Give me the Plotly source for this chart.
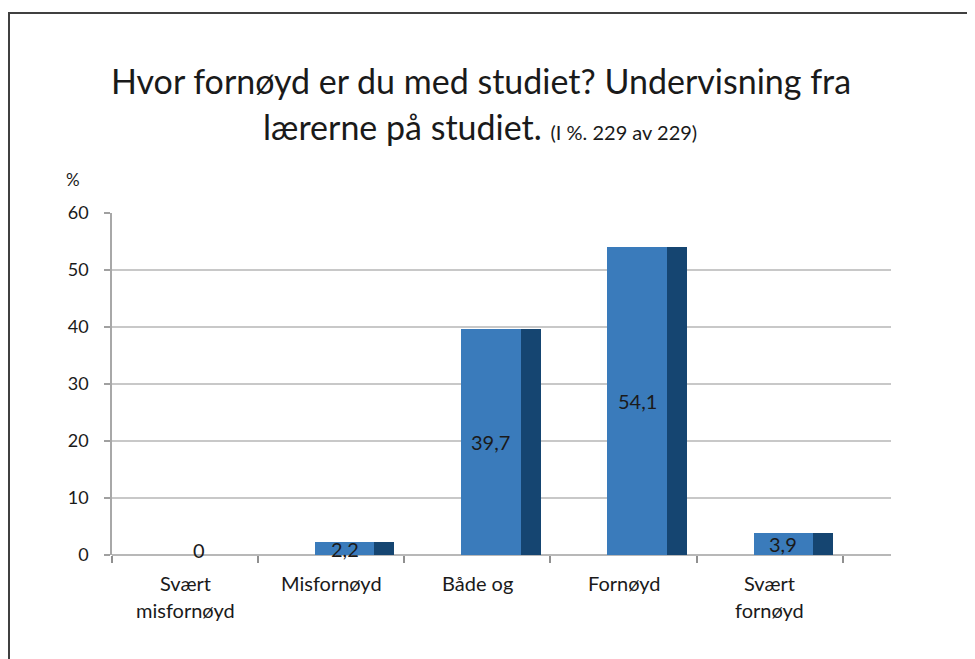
import plotly.graph_objects as go

categories = ["Svært\nmisfornøyd", "Misfornøyd", "Både og", "Fornøyd", "Svært\nfornøyd"]
values = [0, 2.2, 39.7, 54.1, 3.9]
value_labels = ["0", "2,2", "39,7", "54,1", "3,9"]
y_ticks = [0, 10, 20, 30, 40, 50, 60]

FONT = "Lato"
FRONT = "#3a7bbb"
SIDE = "#154571"
TXT = "#1a1a1a"
x = list(range(len(categories)))

front_l, front_r, side_r = -0.11, 0.295, 0.432

# page body has an 8px margin: figure pixel = screen pixel - 8
O = 8
W, H = 975 - O, 659 - O
ML = 112 - O
MT = 213 - O
MR = W - (891 - O)
MB = H - (555 - O)
pw, ph = W - ML - MR, H - MT - MB


def px(sx):
    return (sx - O - ML) / pw


def py(sy):
    return (H - (sy - O) - MB) / ph


fig = go.Figure()
fig.add_trace(go.Bar(
    x=[i + (front_l + front_r) / 2 for i in x], y=values,
    width=front_r - front_l, marker=dict(color=FRONT, line=dict(width=0)),
    hoverinfo="skip", showlegend=False))
fig.add_trace(go.Bar(
    x=[i + (front_r + side_r) / 2 for i in x], y=values,
    width=side_r - front_r, marker=dict(color=SIDE, line=dict(width=0)),
    hoverinfo="skip", showlegend=False))

annotations = []
for i, v, lab in zip(x, values, value_labels):
    annotations.append(dict(x=i + (front_l + front_r) / 2, y=max(v / 2, 0.8), xref="x", yref="y",
                            text=lab, showarrow=False, font=dict(family=FONT, size=20, color=TXT),
                            xanchor="center", yanchor="middle"))
for i, cat in zip(x, categories):
    for k, line in enumerate(cat.split("\n")):
        annotations.append(dict(x=i, y=0, xref="x", yref="paper", text=line, showarrow=False,
                                font=dict(family=FONT, size=20, color=TXT),
                                xanchor="center", yanchor="middle", yshift=-28 - 27 * k))

annotations.append(dict(x=px(481), y=py(80), xref="paper", yref="paper",
                        text="Hvor fornøyd er du med studiet? Undervisning fra",
                        showarrow=False, font=dict(family=FONT, size=34, color=TXT),
                        xanchor="center", yanchor="middle"))
annotations.append(dict(x=px(480), y=py(126), xref="paper", yref="paper",
                        text="lærerne på studiet. <span style='font-size:20px'>(I %. 229 av 229)</span>",
                        showarrow=False, font=dict(family=FONT, size=34, color=TXT),
                        xanchor="center", yanchor="middle"))
annotations.append(dict(x=px(73), y=py(180), xref="paper", yref="paper", text="%", showarrow=False,
                        font=dict(family=FONT, size=17, color=TXT), xanchor="center", yanchor="middle"))

fig.update_layout(
    width=W, height=H,
    margin=dict(l=ML, r=MR, t=MT, b=MB, autoexpand=False),
    plot_bgcolor="white", paper_bgcolor="white",
    barmode="overlay", bargap=0,
    annotations=annotations,
    xaxis=dict(range=[-0.5, 4.83], showgrid=False, zeroline=False, showticklabels=False,
               ticks="", showline=False,
               minor=dict(tickmode="linear", tick0=-0.5, dtick=1, ticks="outside", ticklen=7,
                          tickcolor="#909090", tickwidth=1.5, showgrid=False)),
    yaxis=dict(range=[0, 60], tickvals=y_ticks, showgrid=True, gridcolor="#c8c8c8", gridwidth=1.5,
               zeroline=True, zerolinecolor="#b8b8b8", zerolinewidth=1.5,
               showline=True, linecolor="#a8a8a8", linewidth=1.5,
               ticks="outside", ticklen=6, tickcolor="#a0a0a0", tickwidth=1.5,
               ticklabelstandoff=12,
               tickfont=dict(family=FONT, size=18, color=TXT)),
    shapes=[
        dict(type="line", xref="paper", yref="paper", x0=px(9), x1=px(980),
             y0=py(13), y1=py(13), line=dict(color="#404040", width=2)),
        dict(type="line", xref="paper", yref="paper", x0=px(9), x1=px(9),
             y0=py(12), y1=py(670), line=dict(color="#404040", width=2)),
    ],
)
fig.write_html("out.html")
